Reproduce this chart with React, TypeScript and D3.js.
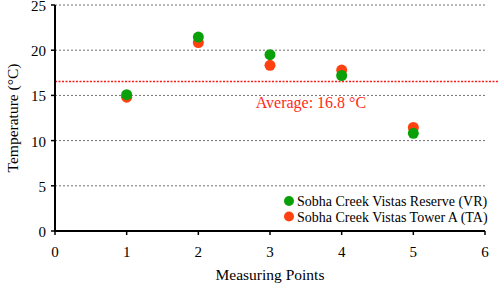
import React from "react";
import * as d3 from "d3";

const points = [1, 2, 3, 4, 5];
const reserveVR = [15.08, 21.45, 19.5, 17.2, 10.8];
const towerTA = [14.8, 20.85, 18.33, 17.8, 11.45];
const averageLevel = 16.55;
const averageLabel = "Average: 16.8 °C";
const xTicks = [0, 1, 2, 3, 4, 5, 6];
const yTicks = [0, 5, 10, 15, 20, 25];
const seriesNames = ["Sobha Creek Vistas Reserve (VR)", "Sobha Creek Vistas Tower A (TA)"];

const W = 498, H = 286;
const FONT = "Liberation Serif";

export default function App() {
  const x = d3.scaleLinear().domain([0, 6]).range([55, 485]);
  const y = d3.scaleLinear().domain([0, 25]).range([231, 5]);
  const green = "#0aa00a";
  const red = "#ff4010";
  const ts = { fontFamily: FONT };
  return (
    <svg width={W} height={H} style={{ position: "absolute", left: 0, top: 0, background: "#fff" }}>
      {yTicks.filter(t => t > 0).map(t => (
        <line key={"g" + t} x1={x(0)} x2={x(6)} y1={y(t)} y2={y(t)} stroke="#707070" strokeWidth={1} strokeDasharray="2,2" />
      ))}
      <line x1={x(0)} x2={W} y1={y(averageLevel)} y2={y(averageLevel)} stroke="#ff1a1a" strokeWidth={1.5} strokeDasharray="2,1.5" />
      <text style={ts} x={x(2.8)} y={y(averageLevel) + 27} fill="#ff2a1a" fontSize={16}>{averageLabel}</text>
      {points.map((p, i) => (
        <circle key={"t" + i} cx={x(p)} cy={y(towerTA[i])} r={5.5} fill={red} />
      ))}
      {points.map((p, i) => (
        <circle key={"v" + i} cx={x(p)} cy={y(reserveVR[i])} r={5.5} fill={green} />
      ))}
      <line x1={x(0)} x2={x(0)} y1={y(25)} y2={y(0)} stroke="#000" strokeWidth={2} />
      <line x1={x(0) - 1} x2={x(6)} y1={y(0)} y2={y(0)} stroke="#000" strokeWidth={2} />
      {yTicks.map(t => (
        <g key={"yt" + t}>
          <line x1={x(0) - 4} x2={x(0)} y1={y(t)} y2={y(t)} stroke="#000" strokeWidth={1.5} />
          <text style={ts} x={x(0) - 9} y={y(t) + 6} textAnchor="end" fontSize={15}>{t}</text>
        </g>
      ))}
      {xTicks.map(t => (
        <g key={"xt" + t}>
          <line x1={x(t)} x2={x(t)} y1={y(0)} y2={y(0) + 4} stroke="#000" strokeWidth={1.5} />
          <text style={ts} x={x(t)} y={257} textAnchor="middle" fontSize={15}>{t}</text>
        </g>
      ))}
      <text style={ts} x={x(3)} y={280} textAnchor="middle" fontSize={15.5}>Measuring Points</text>
      <text style={ts} transform={`translate(18,${y(12.5)}) rotate(-90)`} textAnchor="middle" fontSize={15.5}>Temperature (°C)</text>
      {seriesNames.map((n, i) => (
        <g key={"l" + i}>
          <circle cx={289} cy={201 + i * 15.5} r={5} fill={i === 0 ? green : red} />
          <text style={ts} x={297} y={201 + i * 15.5 + 5} fontSize={14}>{n}</text>
        </g>
      ))}
    </svg>
  );
}
